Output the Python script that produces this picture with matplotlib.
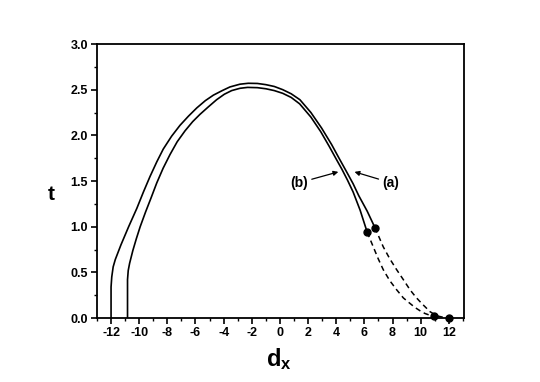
import matplotlib
matplotlib.use("Agg")
import matplotlib.pyplot as plt
from matplotlib.ticker import MultipleLocator

plt.rcParams["font.family"] = ["Liberation Sans", "DejaVu Sans"]
plt.rcParams["font.weight"] = "bold"
plt.rcParams["axes.unicode_minus"] = False
plt.rcParams["mathtext.fontset"] = "custom"
plt.rcParams["mathtext.bf"] = "Liberation Sans:bold"
plt.rcParams["mathtext.rm"] = "Liberation Sans:bold"

# curve (a): solid part up to the dot, then dashed tail
a_x = [-12.0, -12.0, -11.95, -11.85, -11.7, -11.3, -10.75, -10.17, -9.7, -9.23, -8.75,
       -8.29, -7.7, -7.1, -6.5, -5.91, -5.3, -4.73, -4.1, -3.55, -2.84, -2.25, -1.6,
       -1.0, -0.4, 0.2, 0.8, 1.42, 2.2, 2.96, 3.67, 4.2, 4.74, 5.2, 5.6, 6.2, 6.75]
a_t = [0.0, 0.34, 0.45, 0.56, 0.64, 0.8, 1.0, 1.2, 1.38, 1.55, 1.71,
       1.85, 1.99, 2.11, 2.21, 2.30, 2.38, 2.44, 2.49, 2.53, 2.56, 2.57, 2.568,
       2.555, 2.535, 2.5, 2.455, 2.39, 2.25, 2.08, 1.9, 1.75, 1.6, 1.47, 1.34, 1.17, 0.99]
a_dash_x = [6.75, 7.34, 7.8, 8.29, 8.77, 9.24, 9.65, 10.07, 10.4, 10.66, 11.13, 11.6, 12.03]
a_dash_t = [0.99, 0.78, 0.65, 0.53, 0.42, 0.31, 0.23, 0.16, 0.11, 0.07, 0.025, 0.008, 0.0]

# curve (b)
b_x = [-10.83, -10.83, -10.78, -10.68, -10.45, -10.2, -9.93, -9.55, -9.17, -8.75, -8.3,
       -7.81, -7.3, -6.74, -6.2, -5.68, -5.1, -4.5, -3.95, -3.43, -2.84, -2.3, -1.6,
       -1.0, -0.4, 0.2, 0.8, 1.4, 2.2, 2.9, 3.5, 4.0, 4.4, 4.8, 5.2, 5.7, 6.2]
b_t = [0.0, 0.42, 0.52, 0.6, 0.74, 0.87, 1.0, 1.16, 1.31, 1.48, 1.64,
       1.79, 1.93, 2.05, 2.15, 2.23, 2.31, 2.39, 2.45, 2.49, 2.515, 2.525, 2.522,
       2.51, 2.49, 2.46, 2.415, 2.345, 2.2, 2.04, 1.88, 1.74, 1.63, 1.51, 1.38, 1.18, 0.94]
b_dash_x = [6.2, 6.63, 6.98, 7.34, 7.8, 8.29, 8.77, 9.24, 9.6, 9.95, 10.3, 10.66, 10.94]
b_dash_t = [0.94, 0.78, 0.65, 0.53, 0.41, 0.31, 0.22, 0.16, 0.115, 0.08, 0.05, 0.03, 0.025]

x_ticks = list(range(-12, 13, 2))
y_ticks = [0.0, 0.5, 1.0, 1.5, 2.0, 2.5, 3.0]

fig = plt.figure(figsize=(5.4, 3.82), dpi=100)
ax = fig.add_axes([0.1796, 0.1675, 0.6794, 0.7173])

lc = "black"
ax.plot(a_x, a_t, color=lc, lw=1.2)
ax.plot(b_x, b_t, color=lc, lw=1.2)
ax.plot(a_dash_x, a_dash_t, color=lc, lw=1.1, ls=(0, (3.5, 2.5)))
ax.plot(b_dash_x, b_dash_t, color=lc, lw=1.1, ls=(0, (3.5, 2.5)))

dots_x = [a_x[-1], b_x[-1], a_dash_x[-1], b_dash_x[-1]]
dots_t = [a_t[-1], b_t[-1], a_dash_t[-1], b_dash_t[-1]]
ax.plot(dots_x, dots_t, "o", color=lc, ms=5, clip_on=False, zorder=5)

arrow = dict(arrowstyle="-|>", color=lc, lw=0.9, mutation_scale=7, shrinkA=1, shrinkB=0)
ax.annotate("(b)", xy=(4.15, 1.6), xytext=(1.97, 1.48), ha="right", va="center",
            fontsize=10, fontweight="bold", arrowprops=arrow)
ax.annotate("(a)", xy=(5.3, 1.6), xytext=(7.3, 1.48), ha="left", va="center",
            fontsize=10, fontweight="bold", arrowprops=arrow)

ax.set_xlim(-13, 13.07)
ax.set_ylim(0, 3.0)
ax.set_xticks(x_ticks)
ax.set_yticks(y_ticks)
ax.xaxis.set_minor_locator(MultipleLocator(1))
ax.yaxis.set_minor_locator(MultipleLocator(0.25))
ax.set_yticklabels([f"{v:.1f}" for v in y_ticks])
ax.tick_params(which="major", direction="out", length=4.5, width=1.2, labelsize=9, pad=2)
ax.tick_params(which="minor", direction="out", length=2.5, width=1.0)
for lab in ax.get_xticklabels() + ax.get_yticklabels():
    lab.set_fontweight("bold")
for sp in ax.spines.values():
    sp.set_linewidth(1.3)

fig.text(0.094, 0.49, "t", fontsize=15, fontweight="bold", ha="center", va="center")
fig.text(0.517, 0.06, r"$\mathbf{d_x}$", fontsize=17, ha="center", va="center")

fig.savefig("out.png", dpi=100)
